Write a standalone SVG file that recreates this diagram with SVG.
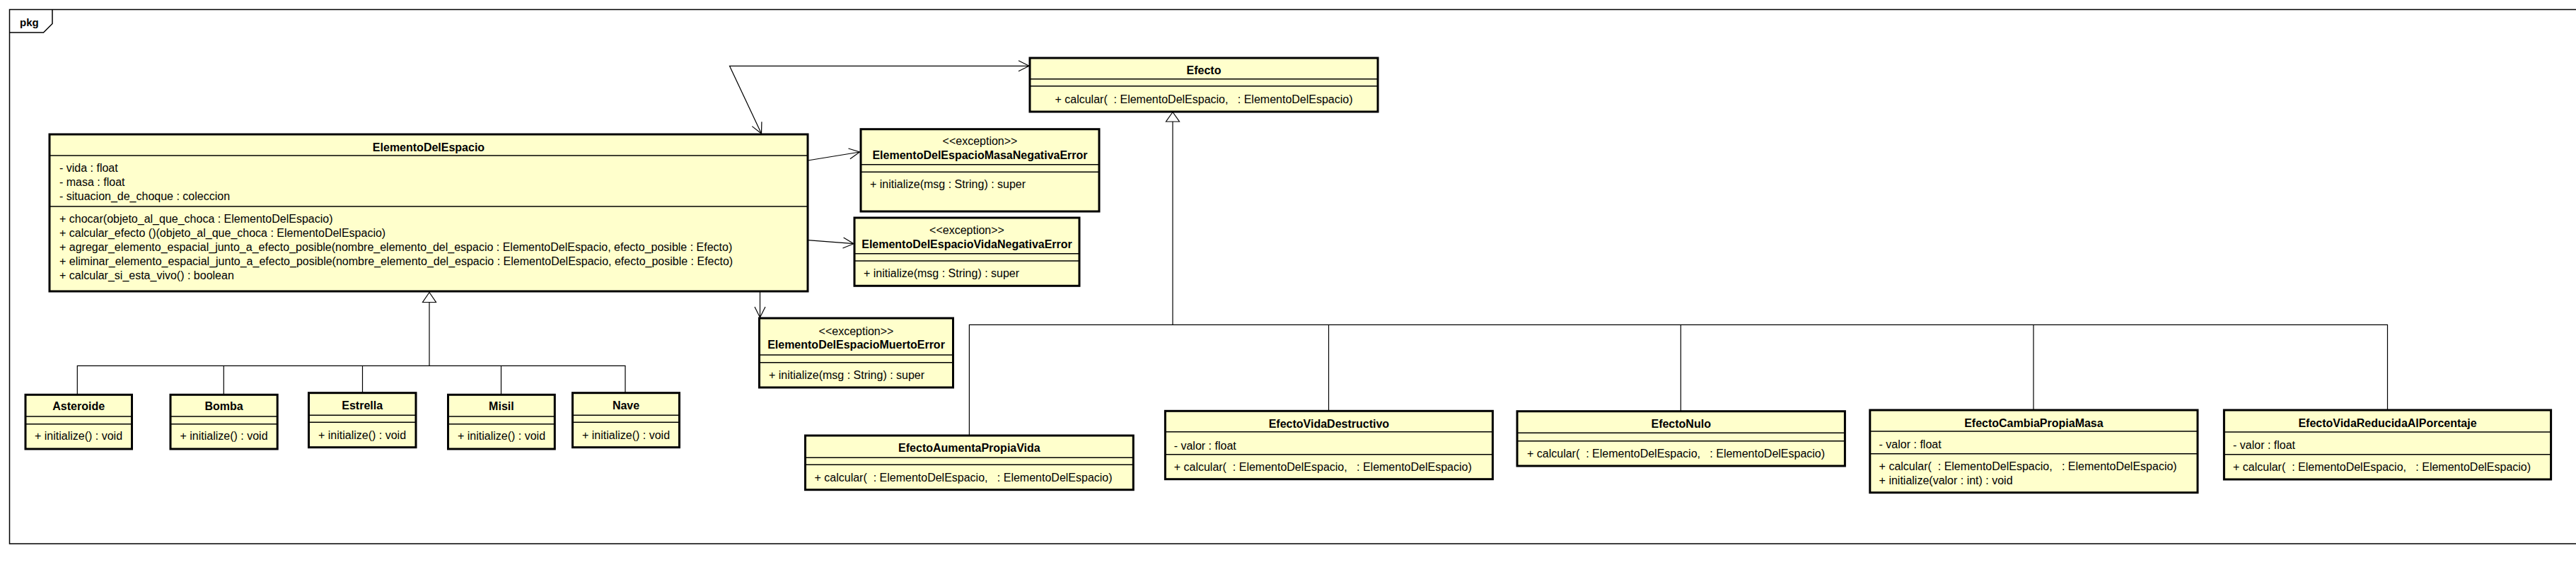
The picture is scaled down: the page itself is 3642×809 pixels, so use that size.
<svg xmlns="http://www.w3.org/2000/svg" width="3642" height="809" viewBox="0 0 3642 809">
<style>
.bg{fill:#ffffff}
.frame{fill:none;stroke:#000;stroke-width:1.5}
.box{fill:#ffffcc;stroke:#000;stroke-width:3}
.dv{stroke:#000;stroke-width:1.5}
.nm{font-family:"Liberation Sans",Arial,sans-serif;font-size:16px;font-weight:bold;text-anchor:middle;fill:#000}
.st{font-family:"Liberation Sans",Arial,sans-serif;font-size:16px;text-anchor:middle;fill:#000}
.tx{font-family:"Liberation Sans",Arial,sans-serif;font-size:16px;fill:#000}
.tc{font-family:"Liberation Sans",Arial,sans-serif;font-size:16px;fill:#000;text-anchor:middle}
.pk{font-family:"Liberation Sans",Arial,sans-serif;font-size:15px;font-weight:bold;fill:#000}
.ln{fill:none;stroke:#000;stroke-width:1.2}
.tri{fill:#fff;stroke:#000;stroke-width:1.2}
</style>
<defs>
<marker id="open" markerUnits="userSpaceOnUse" markerWidth="20" markerHeight="20" viewBox="-17 -10 20 20" refX="0" refY="0" orient="auto-start-reverse"><path d="M-15,-7.5 L0,0 L-15,7.5" fill="none" stroke="#000" stroke-width="1.2"/></marker>
</defs>
<rect class="bg" x="0" y="0" width="3642" height="809"/>
<g id="frame">
<path class="frame" d="M3642,13.5 H13.5 V769 H3642"/>
<path class="frame" d="M13.5,46 H61.5 L74,33.5 V13.5"/>
<text class="pk" x="28" y="37">pkg</text>
</g>
<g id="connectors">
<polyline class="ln" points="1076.5,189 1031.5,93.3 1455,93.3" marker-start="url(#open)" marker-end="url(#open)"/>
<line class="ln" x1="1142" y1="227" x2="1215.5" y2="215" marker-end="url(#open)"/>
<line class="ln" x1="1142" y1="339.7" x2="1207" y2="344.7" marker-end="url(#open)"/>
<line class="ln" x1="1074.5" y1="412" x2="1074.5" y2="449" marker-end="url(#open)"/>
<polyline class="ln" points="607,427.5 607,517.3"/>
<polyline class="ln" points="109.3,558 109.3,517.3 884,517.3 884,555.7"/>
<line class="ln" x1="316.3" y1="517.3" x2="316.3" y2="558"/>
<line class="ln" x1="512.5" y1="517.3" x2="512.5" y2="555.7"/>
<line class="ln" x1="708.5" y1="517.3" x2="708.5" y2="558"/>
<polygon class="tri" points="607,413.5 597.5,427.5 616.5,427.5"/>
<polyline class="ln" points="1658,172 1658,459.3"/>
<polyline class="ln" points="1370.4,616 1370.4,459.3 3375.5,459.3 3375.5,580"/>
<line class="ln" x1="1878.5" y1="459.3" x2="1878.5" y2="581.3"/>
<line class="ln" x1="2376.3" y1="459.3" x2="2376.3" y2="581.7"/>
<line class="ln" x1="2875" y1="459.3" x2="2875" y2="580"/>
<polygon class="tri" points="1658,158.5 1648.5,172 1667.5,172"/>
</g>
<g id="ElementoDelEspacio">
<rect class="box" x="70" y="190" width="1072" height="222"/>
<line class="dv" x1="70" y1="220" x2="1142" y2="220"/>
<line class="dv" x1="70" y1="292" x2="1142" y2="292"/>
<text class="nm" x="606" y="214">ElementoDelEspacio</text>
<text class="tx" x="84" y="243">- vida : float</text>
<text class="tx" x="84" y="263">- masa : float</text>
<text class="tx" x="84" y="283">- situacion_de_choque : coleccion</text>
<text class="tx" x="84" y="315">+ chocar(objeto_al_que_choca : ElementoDelEspacio)</text>
<text class="tx" x="84" y="335">+ calcular_efecto ()(objeto_al_que_choca : ElementoDelEspacio)</text>
<text class="tx" x="84" y="355">+ agregar_elemento_espacial_junto_a_efecto_posible(nombre_elemento_del_espacio : ElementoDelEspacio, efecto_posible : Efecto)</text>
<text class="tx" x="84" y="375">+ eliminar_elemento_espacial_junto_a_efecto_posible(nombre_elemento_del_espacio : ElementoDelEspacio, efecto_posible : Efecto)</text>
<text class="tx" x="84" y="395">+ calcular_si_esta_vivo() : boolean</text>
</g>
<g id="Efecto">
<rect class="box" x="1456" y="82" width="492" height="76"/>
<line class="dv" x1="1456" y1="111.7" x2="1948" y2="111.7"/>
<line class="dv" x1="1456" y1="121.7" x2="1948" y2="121.7"/>
<text class="nm" x="1702" y="104.5">Efecto</text>
<text class="tc" x="1702" y="145.5">+ calcular(&#160; : ElementoDelEspacio,&#160;&#160; : ElementoDelEspacio)</text>
</g>
<g id="ElementoDelEspacioMasaNegativaError">
<rect class="box" x="1217" y="182.7" width="337" height="116.3"/>
<line class="dv" x1="1217" y1="232.7" x2="1554" y2="232.7"/>
<line class="dv" x1="1217" y1="243.3" x2="1554" y2="243.3"/>
<text class="st" x="1385.5" y="205">&lt;&lt;exception&gt;&gt;</text>
<text class="nm" x="1385.5" y="225">ElementoDelEspacioMasaNegativaError</text>
<text class="tx" x="1230" y="266">+ initialize(msg : String) : super</text>
</g>
<g id="ElementoDelEspacioVidaNegativaError">
<rect class="box" x="1208" y="308" width="318" height="96.3"/>
<line class="dv" x1="1208" y1="358.7" x2="1526" y2="358.7"/>
<line class="dv" x1="1208" y1="369" x2="1526" y2="369"/>
<text class="st" x="1367" y="331">&lt;&lt;exception&gt;&gt;</text>
<text class="nm" x="1367" y="351">ElementoDelEspacioVidaNegativaError</text>
<text class="tx" x="1221" y="392">+ initialize(msg : String) : super</text>
</g>
<g id="ElementoDelEspacioMuertoError">
<rect class="box" x="1073.5" y="450" width="274" height="98"/>
<line class="dv" x1="1073.5" y1="502" x2="1347.5" y2="502"/>
<line class="dv" x1="1073.5" y1="512.7" x2="1347.5" y2="512.7"/>
<text class="st" x="1210.5" y="473.5">&lt;&lt;exception&gt;&gt;</text>
<text class="nm" x="1210.5" y="493">ElementoDelEspacioMuertoError</text>
<text class="tx" x="1087" y="535.5">+ initialize(msg : String) : super</text>
</g>
<g id="Asteroide">
<rect class="box" x="36" y="558.3" width="150.5" height="76.7"/>
<line class="dv" x1="36" y1="589" x2="186.5" y2="589"/>
<line class="dv" x1="36" y1="599.7" x2="186.5" y2="599.7"/>
<text class="nm" x="111.2" y="580">Asteroide</text>
<text class="tx" x="49" y="622.3">+ initialize() : void</text>
</g>
<g id="Bomba">
<rect class="box" x="241" y="558.3" width="151.2" height="76.7"/>
<line class="dv" x1="241" y1="589" x2="392.2" y2="589"/>
<line class="dv" x1="241" y1="599.7" x2="392.2" y2="599.7"/>
<text class="nm" x="316.6" y="580">Bomba</text>
<text class="tx" x="254.5" y="622.3">+ initialize() : void</text>
</g>
<g id="Estrella">
<rect class="box" x="436.5" y="555.7" width="151.5" height="77"/>
<line class="dv" x1="436.5" y1="587.3" x2="588" y2="587.3"/>
<line class="dv" x1="436.5" y1="597.3" x2="588" y2="597.3"/>
<text class="nm" x="512.2" y="578.5">Estrella</text>
<text class="tx" x="450" y="620.5">+ initialize() : void</text>
</g>
<g id="Misil">
<rect class="box" x="633.5" y="558.3" width="150.8" height="76.7"/>
<line class="dv" x1="633.5" y1="589" x2="784.3" y2="589"/>
<line class="dv" x1="633.5" y1="599.7" x2="784.3" y2="599.7"/>
<text class="nm" x="708.9" y="580">Misil</text>
<text class="tx" x="647" y="622.3">+ initialize() : void</text>
</g>
<g id="Nave">
<rect class="box" x="809.5" y="555.7" width="151" height="77"/>
<line class="dv" x1="809.5" y1="587.3" x2="960.5" y2="587.3"/>
<line class="dv" x1="809.5" y1="597.3" x2="960.5" y2="597.3"/>
<text class="nm" x="885" y="578.5">Nave</text>
<text class="tx" x="823" y="620.5">+ initialize() : void</text>
</g>
<g id="EfectoAumentaPropiaVida">
<rect class="box" x="1138.5" y="616" width="463.8" height="76.7"/>
<line class="dv" x1="1138.5" y1="647.3" x2="1602.3" y2="647.3"/>
<line class="dv" x1="1138.5" y1="657.3" x2="1602.3" y2="657.3"/>
<text class="nm" x="1370.4" y="639">EfectoAumentaPropiaVida</text>
<text class="tx" x="1151.5" y="681">+ calcular(&#160; : ElementoDelEspacio,&#160;&#160; : ElementoDelEspacio)</text>
</g>
<g id="EfectoVidaDestructivo">
<rect class="box" x="1647.4" y="581.3" width="463" height="96.4"/>
<line class="dv" x1="1647.4" y1="610.7" x2="2110.4" y2="610.7"/>
<line class="dv" x1="1647.4" y1="642.7" x2="2110.4" y2="642.7"/>
<text class="nm" x="1878.9" y="604.5">EfectoVidaDestructivo</text>
<text class="tx" x="1659.7" y="635.5">- valor : float</text>
<text class="tx" x="1659.7" y="665.5">+ calcular(&#160; : ElementoDelEspacio,&#160;&#160; : ElementoDelEspacio)</text>
</g>
<g id="EfectoNulo">
<rect class="box" x="2145" y="581.7" width="463.4" height="77.3"/>
<line class="dv" x1="2145" y1="612.3" x2="2608.4" y2="612.3"/>
<line class="dv" x1="2145" y1="623.7" x2="2608.4" y2="623.7"/>
<text class="nm" x="2376.7" y="604.5">EfectoNulo</text>
<text class="tx" x="2159" y="646.5">+ calcular(&#160; : ElementoDelEspacio,&#160;&#160; : ElementoDelEspacio)</text>
</g>
<g id="EfectoCambiaPropiaMasa">
<rect class="box" x="2643.8" y="580" width="463.2" height="116.7"/>
<line class="dv" x1="2643.8" y1="610" x2="3107" y2="610"/>
<line class="dv" x1="2643.8" y1="641.7" x2="3107" y2="641.7"/>
<text class="nm" x="2875.4" y="603.8">EfectoCambiaPropiaMasa</text>
<text class="tx" x="2656.6" y="633.8">- valor : float</text>
<text class="tx" x="2656.6" y="664.8">+ calcular(&#160; : ElementoDelEspacio,&#160;&#160; : ElementoDelEspacio)</text>
<text class="tx" x="2656.6" y="684.5">+ initialize(valor : int) : void</text>
</g>
<g id="EfectoVidaReducidaAlPorcentaje">
<rect class="box" x="3144.4" y="580" width="462.2" height="98"/>
<line class="dv" x1="3144.4" y1="611" x2="3606.6" y2="611"/>
<line class="dv" x1="3144.4" y1="642.7" x2="3606.6" y2="642.7"/>
<text class="nm" x="3375.5" y="603.8">EfectoVidaReducidaAlPorcentaje</text>
<text class="tx" x="3157" y="634.8">- valor : float</text>
<text class="tx" x="3157" y="665.5">+ calcular(&#160; : ElementoDelEspacio,&#160;&#160; : ElementoDelEspacio)</text>
</g>
</svg>
